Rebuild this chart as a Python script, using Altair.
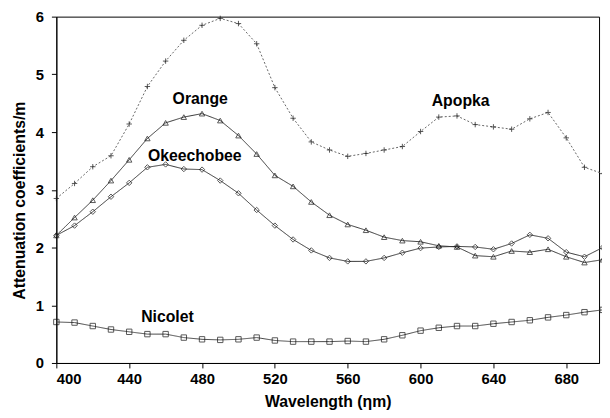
import altair as alt
import pandas as pd

wavelength = [400, 410, 420, 430, 440, 450, 460, 470, 480, 490, 500, 510, 520, 530, 540,
              550, 560, 570, 580, 590, 600, 610, 620, 630, 640, 650, 660, 670, 680, 690, 700]

apopka = [2.85, 3.11, 3.40, 3.59, 4.14, 4.79, 5.23, 5.59, 5.85, 5.97, 5.88, 5.53, 4.77, 4.24, 3.83,
          3.69, 3.58, 3.63, 3.69, 3.75, 4.01, 4.26, 4.28, 4.13, 4.09, 4.05, 4.23, 4.34, 3.90, 3.39, 3.28]
orange = [2.21, 2.52, 2.82, 3.16, 3.52, 3.89, 4.16, 4.26, 4.32, 4.20, 3.94, 3.62, 3.25, 3.06, 2.79,
          2.56, 2.40, 2.30, 2.18, 2.12, 2.10, 2.03, 2.01, 1.86, 1.84, 1.94, 1.92, 1.97, 1.84, 1.74, 1.79]
okeechobee = [2.21, 2.38, 2.62, 2.88, 3.12, 3.39, 3.44, 3.36, 3.35, 3.16, 2.94, 2.65, 2.38, 2.14, 1.95,
              1.82, 1.76, 1.76, 1.82, 1.91, 1.99, 2.01, 2.02, 2.01, 1.97, 2.07, 2.22, 2.16, 1.92, 1.84, 2.00]
nicolet = [0.71, 0.70, 0.64, 0.58, 0.54, 0.50, 0.50, 0.44, 0.41, 0.40, 0.41, 0.44, 0.39, 0.37, 0.37,
           0.37, 0.38, 0.37, 0.41, 0.48, 0.56, 0.61, 0.64, 0.64, 0.68, 0.71, 0.74, 0.79, 0.83, 0.88, 0.92]

series_names = ["Apopka", "Orange", "Okeechobee", "Nicolet"]
series_values = [apopka, orange, okeechobee, nicolet]

label_names = ["Orange", "Okeechobee", "Apopka", "Nicolet"]
label_x = [479, 476, 622, 461]
label_y = [4.57, 3.59, 4.54, 0.80]

x_ticks = [400, 420, 440, 460, 480, 500, 520, 540, 560, 580, 600, 620, 640, 660, 680]
y_ticks = [0, 1, 2, 3, 4, 5, 6]

rows = []
for name, vals in zip(series_names, series_values):
    for w, v in zip(wavelength, vals):
        rows.append({"series": name, "wavelength": w, "value": v})
df = pd.DataFrame(rows)
labels_df = pd.DataFrame({"name": label_names, "x": label_x, "y": label_y})

FONT = "Liberation Sans"
cross_path = "M-1,0L1,0M0,-1L0,1"

x_enc = alt.X("wavelength:Q",
              scale=alt.Scale(domain=[400, 698], nice=False, zero=False),
              axis=alt.Axis(values=x_ticks,
                            labelExpr="datum.value % 40 == 0 ? datum.label : ''",
                            title="Wavelength (\u03b7m)",
                            grid=False, tickSize=5, labelPadding=4,
                            titleX=275, titleY=39, titleBaseline="middle"))
y_enc = alt.Y("value:Q",
              scale=alt.Scale(domain=[0, 6], nice=False),
              axis=alt.Axis(values=y_ticks, format="d", title="Attenuation coefficients/m",
                            grid=False, tickSize=5, labelPadding=8,
                            titleX=-37, titleY=186, titleBaseline="middle"))

lines = alt.Chart(df).mark_line(strokeWidth=1).encode(
    x=x_enc, y=y_enc,
    detail="series:N",
    color=alt.Color("series:N",
                    scale=alt.Scale(domain=series_names,
                                    range=["#666", "#333", "#333", "#444"]),
                    legend=None),
    strokeDash=alt.StrokeDash("series:N",
                              scale=alt.Scale(domain=series_names,
                                              range=[[2, 2], [1, 0], [1, 0], [1, 0]]),
                              legend=None),
)

points = alt.Chart(df).mark_point(filled=False, strokeWidth=1, size=30, color="#111").encode(
    x="wavelength:Q", y="value:Q",
    shape=alt.Shape("series:N",
                    scale=alt.Scale(domain=series_names,
                                    range=[cross_path, "triangle-up", "diamond", "square"]),
                    legend=None),
)

texts = alt.Chart(labels_df).mark_text(font=FONT, fontSize=16, fontWeight="bold",
                                       color="black").encode(
    x="x:Q", y="y:Q", text="name:N")

chart = alt.layer(lines, points, texts).properties(
    width=550, height=351,
    padding={"left": 49, "top": 6, "right": 3, "bottom": 53},
    autosize="none",
).configure_view(
    stroke="black", strokeWidth=1
).configure_axis(
    labelFont=FONT, titleFont=FONT, labelFontSize=15, titleFontSize=16,
    labelFontWeight="bold", titleFontWeight="bold",
    labelColor="black", titleColor="black",
    domainColor="black", tickColor="black", domainWidth=1,
)

chart.save("out.html", embed_options={"renderer": "svg", "actions": False})
